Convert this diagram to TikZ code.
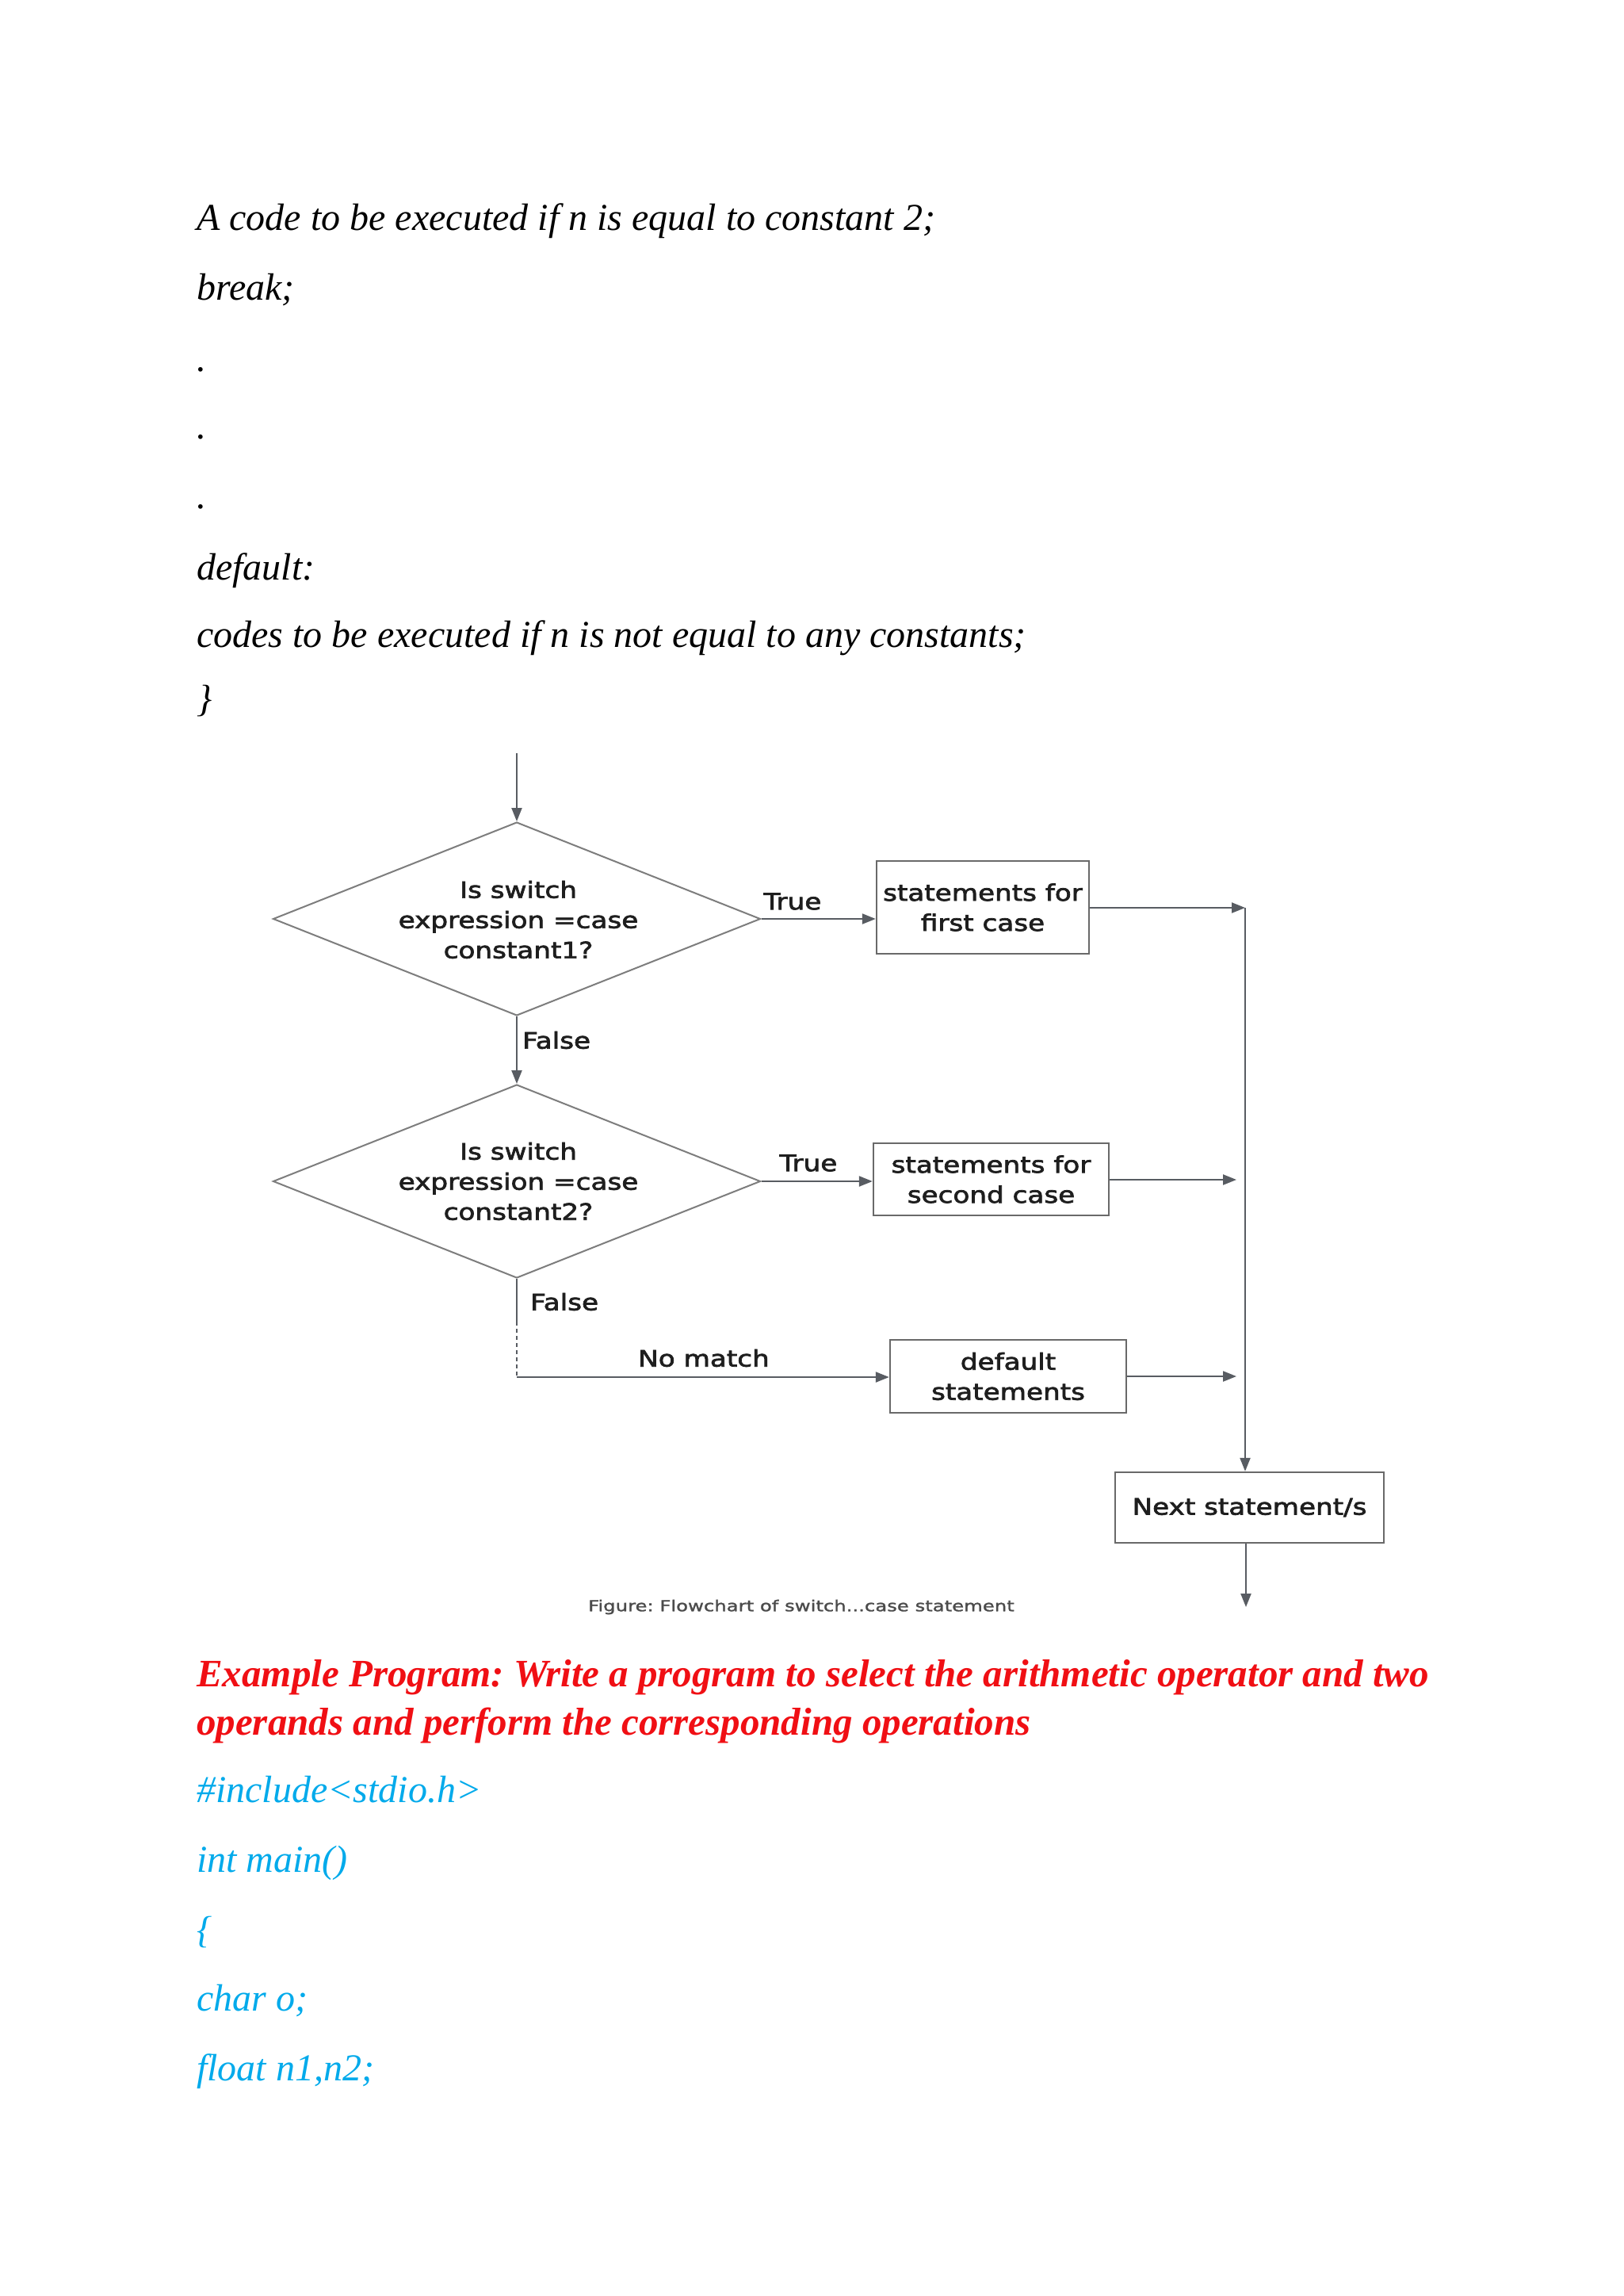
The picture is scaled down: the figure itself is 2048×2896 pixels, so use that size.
\documentclass[tikz,border=0pt]{standalone}
\usepackage{fontspec}
\setmainfont{Liberation Serif}
\newfontfamily\serifw{Liberation Serif}
\newfontfamily\chartf[FakeStretch=1.2,FakeBold=2.5]{DejaVu Sans}
\newfontfamily\capf[FakeStretch=1.28,FakeBold=1.5]{DejaVu Sans}
\usetikzlibrary{shapes.geometric,arrows.meta}
\definecolor{linec}{RGB}{88,92,98}
\definecolor{shapec}{RGB}{125,125,125}
\definecolor{boxc}{RGB}{105,105,105}
\definecolor{txtc}{RGB}{30,30,30}
\definecolor{capc}{RGB}{75,75,75}
\definecolor{redc}{RGB}{240,15,20}
\definecolor{bluec}{RGB}{0,170,235}
\frenchspacing
\tikzset{
  doc/.style={anchor=base west, inner sep=0pt, font=\serifw\itshape\fontsize{48}{56}\selectfont},
  hd/.style={anchor=base west, inner sep=0pt, text=redc, font=\serifw\bfseries\itshape\fontsize{49}{56}\selectfont},
  code/.style={anchor=base west, inner sep=0pt, text=bluec, font=\serifw\itshape\fontsize{48}{56}\selectfont},
  dia/.style={diamond, draw=shapec, line width=2pt, minimum width=615pt, minimum height=244pt, inner sep=0pt},
  diatext/.style={align=center, text=txtc, inner sep=0pt, font=\chartf\fontsize{28.5}{38}\selectfont},
  stbox/.style={rectangle, draw=boxc, line width=2.4pt, align=center, text=txtc, inner sep=0pt, font=\chartf\fontsize{28.5}{38}\selectfont},
  lbl/.style={text=txtc, inner sep=0pt, font=\chartf\fontsize{28.5}{34}\selectfont},
  conn/.style={draw=linec, line width=2.2pt},
  arr/.style={conn, -{Triangle[length=17pt,width=13pt]}}
}
\begin{document}
\begin{tikzpicture}[x=1pt, y=-1pt]
\useasboundingbox[fill=white] (0,0) rectangle (2048,2896);

% upper text
\node[doc] (t1) at (248,290) {A code to be executed if n is equal to constant 2;};
\node[doc] (t2) at (248,378) {break;};
\node[doc] (t3) at (248,468) {.};
\node[doc] (t4) at (248,553) {.};
\node[doc] (t5) at (248,641) {.};
\node[doc] (t6) at (248,731) {default:};
\node[doc] (t7) at (248,816) {codes to be executed if n is not equal to any constants;};
\node[doc] (t8) at (248,897) {\}};

% flowchart
\coordinate (start) at (652,950);
\node[dia] (d1) at (652,1159) {};
\node[diatext] (d1t) at (654,1160) {Is switch\\expression =case\\constant1?};
\node[dia] (d2) at (652,1490) {};
\node[diatext] (d2t) at (654,1490) {Is switch\\expression =case\\constant2?};

\node[stbox, minimum width=268pt, minimum height=117pt] (b1) at (1240,1144.5) {statements for\\first case};
\node[stbox, minimum width=297pt, minimum height=91pt] (b2) at (1250.5,1487.5) {statements for\\second case};
\node[stbox, minimum width=298pt, minimum height=92pt] (b3) at (1272,1736) {default\\statements};
\node[stbox, minimum width=339pt, minimum height=89pt] (b4) at (1576.5,1901.5) {Next statement/s};

\coordinate (c1) at (1571,1145);
\coordinate (j2) at (1560,1488);
\coordinate (j3) at (1560,1736);
\coordinate (s2) at (652,1667);
\coordinate (c3) at (652,1737);
\coordinate (endp) at (1572,2027);

\draw[arr] (start) -- (d1.north);
\draw[arr] (d1.east) -- (d1.east -| b1.west);
\draw[arr] (b1.east |- c1) -- (c1);
\draw[arr] (c1) -- (c1 |- b4.north);
\draw[arr] (d1.south) -- (d2.north);
\draw[arr] (d2.east) -- (d2.east -| b2.west);
\draw[arr] (b2.east |- j2) -- (j2);
\draw[conn] (d2.south) -- (s2);
\draw[conn, dash pattern=on 5pt off 4pt, line width=1.6pt] (s2) -- (c3);
\draw[arr] (c3) -- (c3 -| b3.west);
\draw[arr] (b3.east |- j3) -- (j3);
\draw[arr] (b4.south -| endp) -- (endp);

\node[lbl] (lt1) at (1000,1137) {True};
\node[lbl] (lt2) at (1020,1467) {True};
\node[lbl, anchor=west] (lf1) at (659,1312) {False};
\node[lbl, anchor=west] (lf2) at (669,1642) {False};
\node[lbl] (lnm) at (888,1713) {No match};
\node[text=capc, inner sep=0pt, font=\capf\fontsize{19}{22}\selectfont] (cap) at (1011,2027) {Figure: Flowchart of switch...case statement};

% lower text
\node[hd] (h1) at (248,2127) {Example Program: Write a program to select the arithmetic operator and two};
\node[hd] (h2) at (248,2188) {operands and perform the corresponding operations};
\node[code] (c1t) at (248,2273) {\#include<stdio.h>};
\node[code] (c2t) at (248,2361) {int main()};
\node[code] (c3t) at (248,2450) {\{};
\node[code] (c4t) at (248,2536) {char o;};
\node[code] (c5t) at (248,2624) {float n1,n2;};
\end{tikzpicture}
\end{document}
